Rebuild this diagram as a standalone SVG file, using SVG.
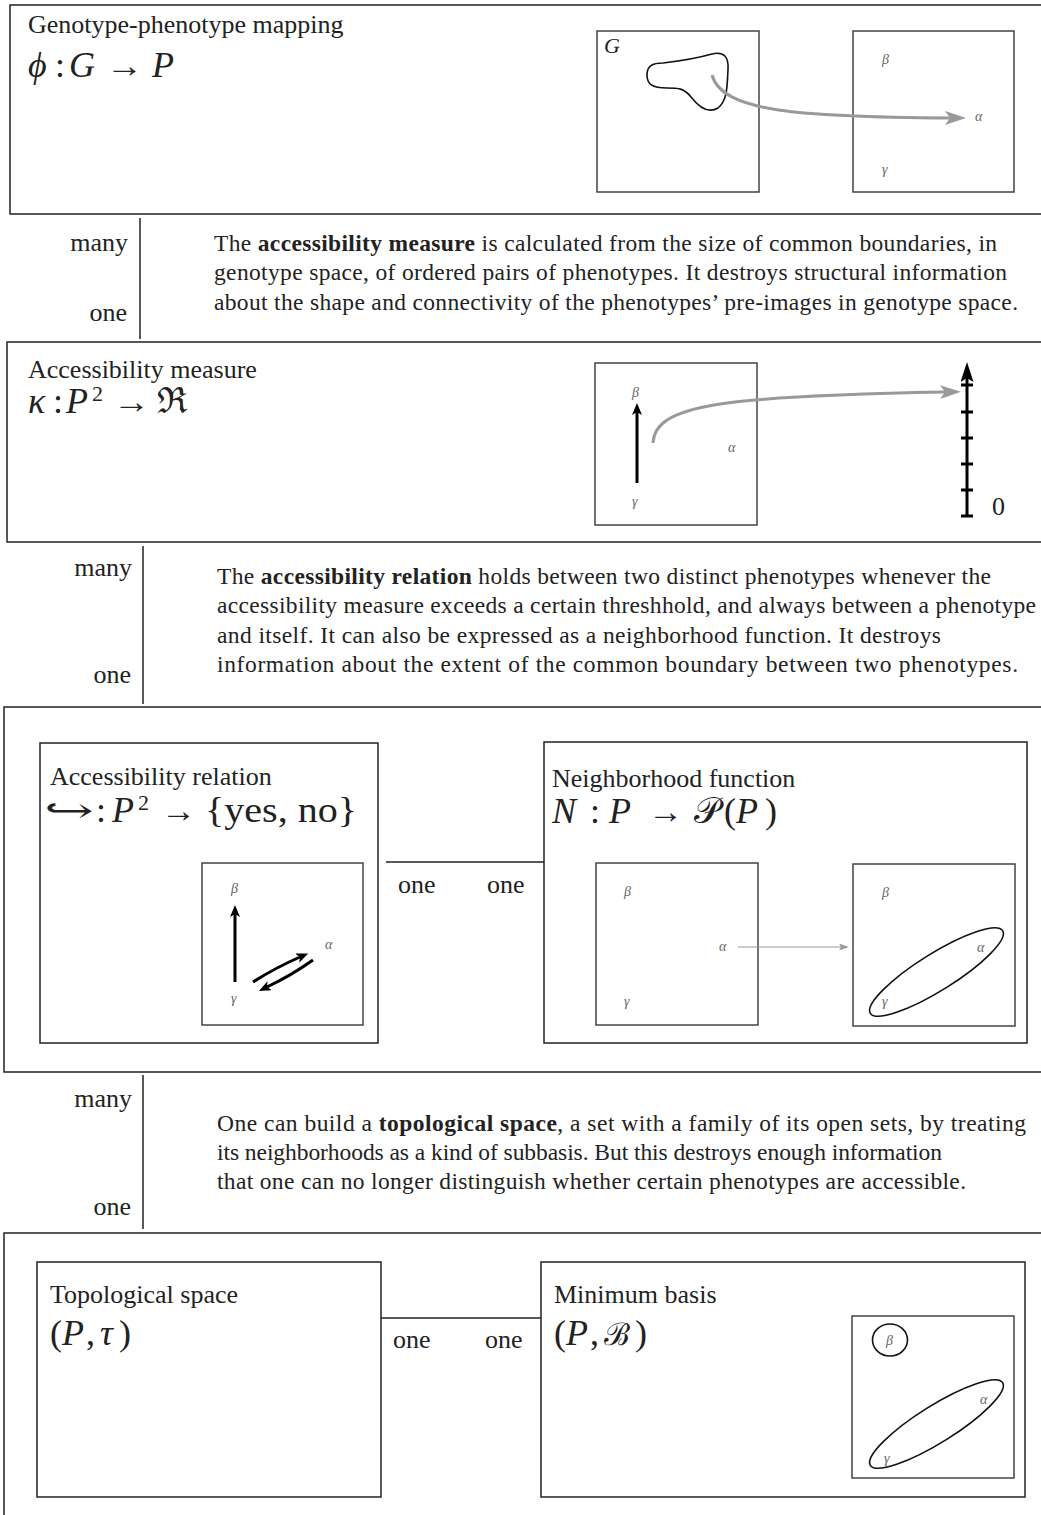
<svg xmlns="http://www.w3.org/2000/svg" width="1041" height="1515" viewBox="0 0 1041 1515">
<style>
text{font-family:"Liberation Serif","DejaVu Serif",serif;fill:#222}
.t{font-size:26px}
.b{font-size:23.5px}
.m{font-size:36px}
.ar{font-size:34px}
.sup{font-size:22px}
.i{font-style:italic}
.g{font-size:14px;font-style:italic;fill:#666}
.panel{fill:none;stroke:#222;stroke-width:1.5}
.box{fill:none;stroke:#444;stroke-width:1.5}
.ln{fill:none;stroke:#222;stroke-width:1.5}
.gray{fill:none;stroke:#999;stroke-width:3}
.blk{fill:none;stroke:#000;stroke-width:3}
.thin{fill:none;stroke:#999;stroke-width:1.2}
.curve{fill:none;stroke:#111;stroke-width:1.6}
</style>
<defs>
<marker id="ahGray" markerUnits="userSpaceOnUse" markerWidth="24" markerHeight="16" refX="5" refY="7" orient="auto"><path d="M0,0 L21,7 L0,14 L5,7 Z" fill="#999"/></marker>
<marker id="ahBlk" markerUnits="userSpaceOnUse" markerWidth="14" markerHeight="12" refX="3" refY="5" orient="auto"><path d="M0,0 L12,5 L0,10 L3,5 Z" fill="#000"/></marker>
<marker id="ahBig" markerUnits="userSpaceOnUse" markerWidth="22" markerHeight="14" refX="4" refY="6.5" orient="auto"><path d="M0,0 L20,6.5 L0,13 L4,6.5 Z" fill="#000"/></marker>
<marker id="ahThin" markerUnits="userSpaceOnUse" markerWidth="12" markerHeight="8" refX="2" refY="3.5" orient="auto"><path d="M0,0 L10,3.5 L0,7 L2,3.5 Z" fill="#999"/></marker>
</defs>

<g id="genotype-phenotype-mapping">
<rect class="panel" x="10" y="5" width="1040" height="209"/>
<text class="t" x="28" y="33">Genotype-phenotype mapping</text>
<text class="m" y="77"><tspan class="i" x="28">ϕ</tspan><tspan x="55">:</tspan><tspan class="i" x="69">G</tspan><tspan class="i" x="152">P</tspan></text>
<text class="ar" x="106" y="77" textLength="37" lengthAdjust="spacingAndGlyphs">→</text>
<rect class="box" x="597" y="31" width="162" height="161"/>
<text x="604" y="53" style="font-size:22px;font-style:italic">G</text>
<path class="curve" d="M663,63 C680,61 698,58 712,54 C724,51 729,57 728,70 C727,84 728,100 718,108 C708,114 698,106 691,97 C684,88 678,88 667,88 C652,88 647,84 647,75 C647,66 652,63 663,63 Z"/>
<rect class="box" x="853" y="31" width="161" height="161"/>
<text class="g" x="882" y="64">β</text>
<text class="g" x="975" y="121">α</text>
<text class="g" x="882" y="174">γ</text>
</g>

<g id="accessibility-measure">
<rect class="panel" x="7" y="342" width="1043" height="200"/>
<text class="t" x="28" y="378">Accessibility measure</text>
<text class="m" y="413"><tspan class="i" x="28">κ</tspan><tspan x="53">:</tspan><tspan class="i" x="66">P</tspan><tspan class="sup" x="92" y="401">2</tspan><tspan x="157" y="413">ℜ</tspan></text>
<text class="ar" x="113" y="413" textLength="37" lengthAdjust="spacingAndGlyphs">→</text>
<rect class="box" x="595" y="363" width="162" height="162"/>
<text class="g" x="632" y="397">β</text>
<text class="g" x="632" y="506">γ</text>
<text class="g" x="728" y="452">α</text>
<line class="blk" x1="637" y1="483" x2="637" y2="412" marker-end="url(#ahBlk)"/>
<line class="blk" x1="967" y1="516" x2="967" y2="378" marker-end="url(#ahBig)"/>
<path class="blk" d="M961,385 H973 M961,412 H973 M961,438 H973 M961,464 H973 M961,490 H973 M961,516 H973"/>
<text class="t" x="992" y="515">0</text>
</g>

<g id="accessibility-relation-panel">
<rect class="panel" x="4" y="707" width="1046" height="365"/>
</g>

<g id="accessibility-relation">
<rect class="box" x="40" y="743" width="338" height="300" style="stroke:#222"/>
<text class="t" x="50" y="785">Accessibility relation</text>
<text class="ar" x="44" y="822" textLength="50" lengthAdjust="spacingAndGlyphs">↪</text>
<text class="m" y="822"><tspan x="96">:</tspan><tspan class="i" x="112">P</tspan><tspan class="sup" x="138" y="810">2</tspan></text>
<text class="ar" x="161" y="822" textLength="35" lengthAdjust="spacingAndGlyphs">→</text>
<text class="m" x="205" y="822" textLength="152" lengthAdjust="spacingAndGlyphs">{yes, no}</text>
<rect class="box" x="202" y="863" width="161" height="162"/>
<text class="g" x="231" y="893">β</text>
<text class="g" x="231" y="1003">γ</text>
<text class="g" x="325" y="949">α</text>
<line class="blk" x1="235" y1="982" x2="235" y2="914" marker-end="url(#ahBlk)"/>
<path class="blk" d="M253,982 Q275,968 300,957" marker-end="url(#ahBlk)"/>
<path class="blk" d="M313,960 Q292,975 267,987" marker-end="url(#ahBlk)"/>
</g>

<g id="neighborhood-function">
<rect class="box" x="544" y="742" width="483" height="301" style="stroke:#222"/>
<text class="t" x="552" y="787">Neighborhood function</text>
<text class="m" y="823"><tspan class="i" x="552">N</tspan><tspan x="590">:</tspan><tspan class="i" x="609">P</tspan><tspan x="694">𝒫</tspan><tspan x="724">(</tspan><tspan class="i" x="736">P</tspan><tspan x="765">)</tspan></text>
<text class="ar" x="648" y="823" textLength="35" lengthAdjust="spacingAndGlyphs">→</text>
<rect class="box" x="596" y="863" width="162" height="162"/>
<text class="g" x="624" y="896">β</text>
<text class="g" x="624" y="1006">γ</text>
<text class="g" x="719" y="951">α</text>
<line class="thin" x1="738" y1="947" x2="841" y2="947" marker-end="url(#ahThin)"/>
<rect class="box" x="853" y="864" width="162" height="162"/>
<text class="g" x="882" y="897">β</text>
<text class="g" x="977" y="952">α</text>
<text class="g" x="882" y="1006">γ</text>
<ellipse class="curve" cx="936.5" cy="972" rx="78" ry="18.5" transform="rotate(-32 936.5 972)"/>
</g>

<g id="topological-panel">
<rect class="panel" x="4" y="1233" width="1046" height="300"/>
</g>

<g id="topological-space">
<rect class="box" x="37" y="1262" width="344" height="235" style="stroke:#222"/>
<text class="t" x="50" y="1303">Topological space</text>
<text class="m" y="1345"><tspan x="50">(</tspan><tspan class="i" x="62">P</tspan><tspan x="86">,</tspan><tspan class="i" x="100">τ</tspan><tspan x="119">)</tspan></text>
</g>

<g id="minimum-basis">
<rect class="box" x="541" y="1262" width="484" height="235" style="stroke:#222"/>
<text class="t" x="554" y="1303">Minimum basis</text>
<text class="m" y="1345"><tspan x="554">(</tspan><tspan class="i" x="566">P</tspan><tspan x="590">,</tspan><tspan x="604" style="font-size:31px">ℬ</tspan><tspan x="635">)</tspan></text>
<rect class="box" x="852" y="1316" width="162" height="162"/>
<ellipse class="curve" cx="890" cy="1340" rx="17.5" ry="16"/>
<text class="g" x="886" y="1345">β</text>
<text class="g" x="980" y="1404">α</text>
<text class="g" x="884" y="1463">γ</text>
<ellipse class="curve" cx="936.5" cy="1424" rx="78" ry="18.5" transform="rotate(-32 936.5 1424)"/>
</g>

<g id="connectors">
<path class="gray" d="M712,75 C722,112 800,117 950,118" marker-end="url(#ahGray)"/>
<path class="gray" d="M653,443 C655,405 720,396 945,392" marker-end="url(#ahGray)"/>

<line class="ln" x1="140" y1="218" x2="140" y2="339"/>
<text class="t" x="128" y="251" text-anchor="end">many</text>
<text class="t" x="127" y="321" text-anchor="end">one</text>
<text class="b" x="214" y="251" textLength="783" lengthAdjust="spacing">The <tspan font-weight="bold">accessibility measure</tspan> is calculated from the size of common boundaries, in</text>
<text class="b" x="214" y="280" textLength="793" lengthAdjust="spacing">genotype space, of ordered pairs of phenotypes. It destroys structural information</text>
<text class="b" x="214" y="310" textLength="804" lengthAdjust="spacing">about the shape and connectivity of the phenotypes’ pre-images in genotype space.</text>

<line class="ln" x1="143" y1="546" x2="143" y2="704"/>
<text class="t" x="132" y="576" text-anchor="end">many</text>
<text class="t" x="131" y="683" text-anchor="end">one</text>
<text class="b" x="217" y="584" textLength="774" lengthAdjust="spacing">The <tspan font-weight="bold">accessibility relation</tspan> holds between two distinct phenotypes whenever the</text>
<text class="b" x="217" y="613" textLength="819" lengthAdjust="spacing">accessibility measure exceeds a certain threshhold, and always between a phenotype</text>
<text class="b" x="217" y="643" textLength="724" lengthAdjust="spacing">and itself. It can also be expressed as a neighborhood function. It destroys</text>
<text class="b" x="217" y="672" textLength="801" lengthAdjust="spacing">information about the extent of the common boundary between two phenotypes.</text>

<line class="ln" x1="386" y1="862" x2="544" y2="862"/>
<text class="t" x="398" y="893">one</text>
<text class="t" x="487" y="893">one</text>

<line class="ln" x1="143" y1="1075" x2="143" y2="1229"/>
<text class="t" x="132" y="1107" text-anchor="end">many</text>
<text class="t" x="131" y="1215" text-anchor="end">one</text>
<text class="b" x="217" y="1131" textLength="809" lengthAdjust="spacing">One can build a <tspan font-weight="bold">topological space</tspan>, a set with a family of its open sets, by treating</text>
<text class="b" x="217" y="1160" textLength="725" lengthAdjust="spacing">its neighborhoods as a kind of subbasis. But this destroys enough information</text>
<text class="b" x="217" y="1189" textLength="749" lengthAdjust="spacing">that one can no longer distinguish whether certain phenotypes are accessible.</text>

<line class="ln" x1="381" y1="1318" x2="541" y2="1318"/>
<text class="t" x="393" y="1348">one</text>
<text class="t" x="485" y="1348">one</text>
</g>
</svg>
